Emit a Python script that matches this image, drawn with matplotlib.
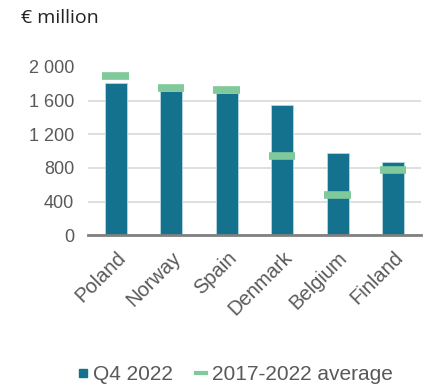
import matplotlib.pyplot as plt
from matplotlib.lines import Line2D

countries = ['Poland', 'Norway', 'Spain', 'Denmark', 'Belgium', 'Finland']
q4_2022 = [1811, 1716, 1685, 1546, 973, 873]
avg_2017_2022 = [1890, 1748, 1725, 941, 478, 778]

bar_color = '#14728f'
avg_color = '#7fc99b'
text_color = '#595959'

plt.rcParams['font.family'] = ['Liberation Sans', 'DejaVu Sans']

fig = plt.figure(figsize=(4.29, 3.85), dpi=100)
ax = fig.add_axes([0.205, 0.389, 0.776, 0.437])

x = list(range(len(countries)))
ax.bar(x, q4_2022, width=0.4, color=bar_color, edgecolor='#b8d8e0', linewidth=0.6, zorder=2)
for xi, v in zip(x, avg_2017_2022):
    ax.plot([xi - 0.24, xi + 0.24], [v, v], color=avg_color, lw=5.5,
            solid_capstyle='butt', zorder=3)

ax.set_xlim(-0.5, len(countries) - 0.5)
ax.set_ylim(0, 2000)
ax.set_yticks([0, 400, 800, 1200, 1600, 2000])
ax.set_yticklabels(['0', '400', '800', '1 200', '1 600', '2 000'])
ax.yaxis.grid(True, color='#d9d9d9', lw=1.2, zorder=0)
ax.set_axisbelow(True)
ax.yaxis.get_gridlines()[-1].set_visible(False)

for s in ['top', 'right', 'left']:
    ax.spines[s].set_visible(False)
ax.spines['bottom'].set_color('#808080')
ax.spines['bottom'].set_linewidth(2)

ax.tick_params(axis='y', length=0, labelsize=13, labelcolor=text_color, pad=10)
ax.tick_params(axis='x', length=0, labelsize=14.5, labelcolor=text_color, pad=9)
ax.set_xticks(x)
ax.set_xticklabels(countries, rotation=45, ha='right', rotation_mode='anchor')
for lbl in ax.get_xticklabels():
    lbl.set_x(lbl.get_position()[0])

fig.text(0.05, 0.953, '€ million', fontsize=14, color='#222222',
         family=['Open Sans', 'DejaVu Sans'], va='center')

handles = [
    Line2D([], [], marker='s', ls='none', color=bar_color, markersize=6),
    Line2D([], [], color=avg_color, lw=3),
]
fig.legend(handles, ['Q4 2022', '2017-2022 average'], loc='center',
           bbox_to_anchor=(0.548, 0.026), ncol=2, frameon=False,
           fontsize=15, labelcolor=text_color, handlelength=0.5,
           handletextpad=0.25, columnspacing=1.1)

fig.savefig('out.png', dpi=100)
